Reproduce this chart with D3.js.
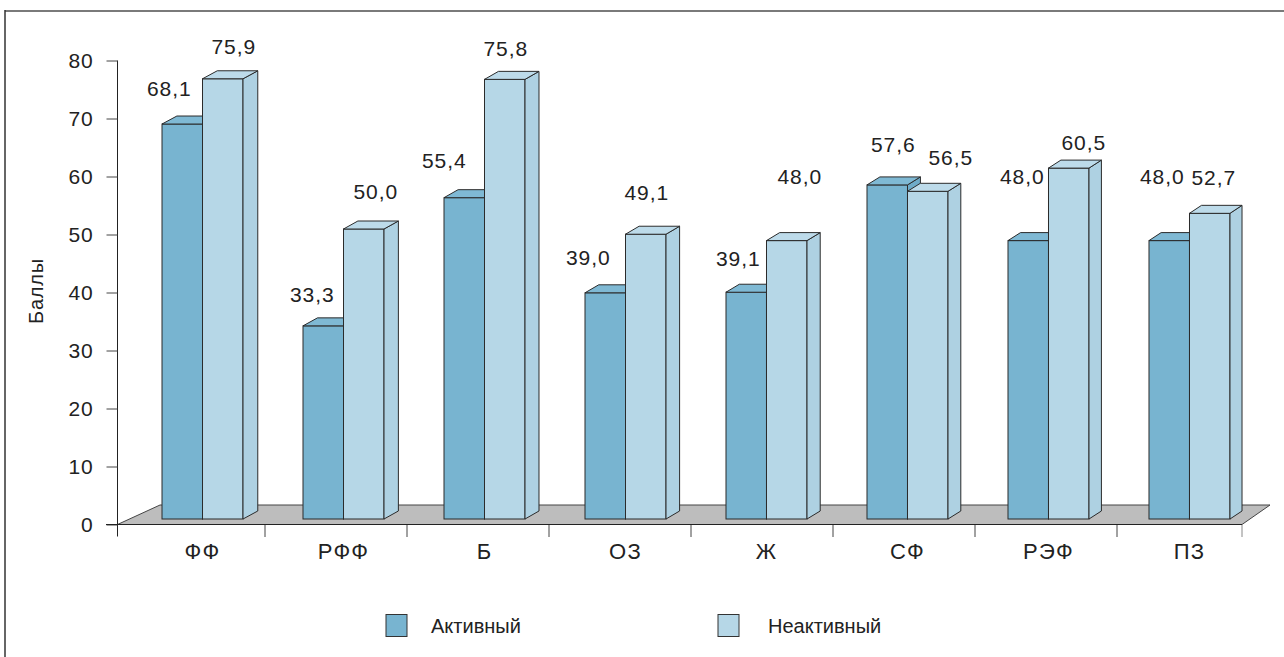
<!DOCTYPE html>
<html>
<head>
<meta charset="utf-8">
<script src="https://cdn.jsdelivr.net/npm/d3@7"></script>
<style>
  html, body { margin: 0; padding: 0; background: #fff; }
  svg { display: block; font-family: "Liberation Sans", Arial, Helvetica, sans-serif; }
</style>
</head>
<body>
<svg id="chart" width="1284" height="657"></svg>
<script>
// Categories and series
const categories = ["ФФ", "РФФ", "Б", "ОЗ", "Ж", "СФ", "РЭФ", "ПЗ"];
const seriesNames = ["Активный", "Неактивный"];
const activeValues = [68.1, 33.3, 55.4, 39.0, 39.1, 57.6, 48.0, 48.0];
const inactiveValues = [75.9, 50.0, 75.8, 49.1, 48.0, 56.5, 60.5, 52.7];
const yTicks = [0, 10, 20, 30, 40, 50, 60, 70, 80];
const yTitle = "Баллы";

// Hand-placed label nudges (dx, dy) relative to the bar's front-top centre
const labelNudgeActive = [[-13, -35], [-11, -31], [-20, -37], [-17, -35], [-8, -34], [6, -40], [-6, -64], [-7, -64]];
const labelNudgeInactive = [[11, -32], [12, -37], [1, -31], [1, -42], [13, -64], [23, -34], [15, -25], [4, -36]];

const colors = { "Активный": "#78b4d0", "Неактивный": "#b6d7e7" };
const sideColors = { "Активный": "#6fabc8", "Неактивный": "#aed1e2" };
const topColors = { "Активный": "#7fb9d4", "Неактивный": "#bddbea" };
const textColor = "#222";

const svg = d3.select("#chart");

// Outer frame (top and left rules)
svg.append("line").attr("x1", 5).attr("x2", 1284).attr("y1", 11).attr("y2", 11)
  .attr("stroke", "#7a7a7a").attr("stroke-width", 2);
svg.append("line").attr("x1", 5).attr("x2", 5).attr("y1", 10).attr("y2", 657)
  .attr("stroke", "#333").attr("stroke-width", 1.5);

// Scales
const y = d3.scaleLinear().domain([0, 80]).range([524.5, 60.5]);
const x0 = d3.scaleBand().domain(categories).range([132, 1260])
  .paddingInner(0.4255).paddingOuter(0.2128);
const x1 = d3.scaleBand().domain(seriesNames).range([0, x0.bandwidth()]);

// Depth of the bars: slight perspective, deeper on the left
const barLift = 5.5;
const depthX = d3.scaleLinear().domain([160, 1240]).range([15, 12]);
const depthY = -8;

// Floor
const axisLeft = 117.5, axisRight = 1242;
const floor = [[axisLeft, 524.5], [160, 505], [1270, 505], [axisRight, 524.5]];
svg.append("polygon")
  .attr("points", floor.map(p => p.join(",")).join(" "))
  .attr("fill", "#bdbdbd").attr("stroke", "#444").attr("stroke-width", 1);

// Y axis
const yAxis = d3.axisLeft(y).tickValues(yTicks).tickSize(11).tickPadding(13);
const yg = svg.append("g").attr("transform", `translate(${axisLeft},0)`).call(yAxis);
yg.attr("font-family", null).attr("font-size", null);
yg.select(".domain").attr("d", `M0,${y(80)}V${y(0) + 12}`).attr("stroke", "#222");
yg.selectAll(".tick line").attr("stroke", "#444");
yg.selectAll(".tick text").attr("font-size", 21).attr("fill", textColor)
  .attr("letter-spacing", 0.8);

// Bottom axis line
svg.append("line").attr("x1", 106).attr("x2", axisRight).attr("y1", 524.5).attr("y2", 524.5)
  .attr("stroke", "#222").attr("stroke-width", 1.2);

// Category boundary ticks
const tickX = d3.scaleLinear().domain([1, 7]).range([265, 1117]);
d3.range(1, 8).forEach(i => {
  svg.append("line").attr("x1", tickX(i)).attr("x2", tickX(i))
    .attr("y1", 525).attr("y2", 537).attr("stroke", "#444").attr("stroke-width", 1);
});
svg.append("line").attr("x1", axisRight).attr("x2", axisRight)
  .attr("y1", 525).attr("y2", 537).attr("stroke", "#888").attr("stroke-width", 1);

// Category labels
svg.append("g").selectAll("text").data(categories).join("text")
  .attr("x", d => x0(d) + x0.bandwidth() / 2)
  .attr("y", 551)
  .attr("dy", "0.35em")
  .attr("text-anchor", "middle")
  .attr("font-size", 22).attr("fill", textColor).attr("letter-spacing", 1.2)
  .text(d => d);

// Y title
svg.append("text")
  .attr("transform", "translate(36,291) rotate(-90)")
  .attr("text-anchor", "middle")
  .attr("dy", "0.35em")
  .attr("font-size", 20).attr("fill", textColor).attr("letter-spacing", 0.8)
  .text(yTitle);

// 3D bars
const rows = categories.map((c, i) => ({
  cat: c, i,
  bars: [
    { s: seriesNames[0], v: activeValues[i], nudge: labelNudgeActive[i] },
    { s: seriesNames[1], v: inactiveValues[i], nudge: labelNudgeInactive[i] }
  ]
}));

const barsG = svg.append("g");
rows.forEach(row => {
  row.bars.forEach(b => {
    const xl = x0(row.cat) + x1(b.s);
    const xr = xl + x1.bandwidth();
    const yt = y(b.v) - barLift;
    const yb = y(0) - barLift;
    const dx = depthX(xr);
    const g = barsG.append("g");
    // front face
    g.append("rect").attr("x", xl).attr("y", yt).attr("width", xr - xl).attr("height", yb - yt)
      .attr("fill", colors[b.s]).attr("stroke", "#2b2b2b").attr("stroke-width", 1);
    // right side
    g.append("polygon")
      .attr("points", [[xr, yt], [xr + dx, yt + depthY], [xr + dx, yb + depthY], [xr, yb]].map(p => p.join(",")).join(" "))
      .attr("fill", sideColors[b.s]).attr("stroke", "#2b2b2b").attr("stroke-width", 1).attr("stroke-linejoin", "round");
    // top
    g.append("polygon")
      .attr("points", [[xl, yt], [xl + dx, yt + depthY], [xr + dx, yt + depthY], [xr, yt]].map(p => p.join(",")).join(" "))
      .attr("fill", topColors[b.s]).attr("stroke", "#2b2b2b").attr("stroke-width", 1).attr("stroke-linejoin", "round");
  });
});

// Value labels
const fmt = v => d3.format(".1f")(v).replace(".", ",");
const labelsG = svg.append("g");
rows.forEach(row => {
  row.bars.forEach(b => {
    const cx = x0(row.cat) + x1(b.s) + x1.bandwidth() / 2;
    const yt = y(b.v) - barLift;
    labelsG.append("text")
      .attr("x", cx + b.nudge[0])
      .attr("y", yt + b.nudge[1])
      .attr("dy", "0.35em")
      .attr("text-anchor", "middle")
      .attr("font-size", 21).attr("fill", textColor).attr("letter-spacing", 0.9)
      .text(fmt(b.v));
  });
});

// Legend
const legendItems = [
  { s: seriesNames[0], sx: 386, tx: 431 },
  { s: seriesNames[1], sx: 718, tx: 768 }
];
const lg = svg.append("g");
legendItems.forEach(it => {
  lg.append("rect").attr("x", it.sx).attr("y", 614.5).attr("width", 21).attr("height", 22)
    .attr("fill", colors[it.s]).attr("stroke", "#333").attr("stroke-width", 1);
  lg.append("text").attr("x", it.tx).attr("y", 626).attr("dy", "0.35em")
    .attr("font-size", 20).attr("fill", textColor).text(it.s);
});
</script>
</body>
</html>
